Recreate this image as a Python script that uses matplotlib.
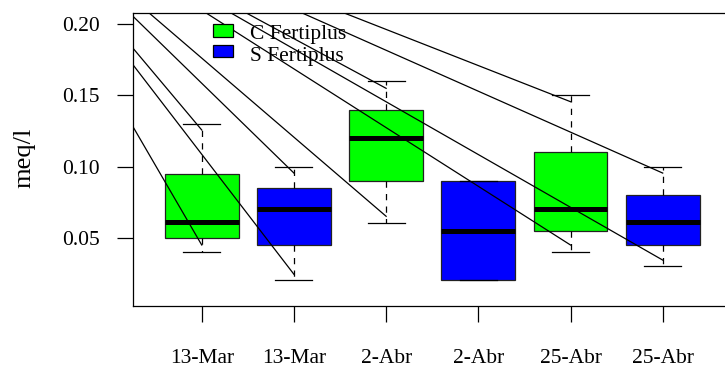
import matplotlib
matplotlib.use('Agg')
import matplotlib.pyplot as plt
from matplotlib.patches import Rectangle

plt.rcParams['font.family'] = ['Liberation Serif', 'DejaVu Serif']

# ---- data ----
labels = ['13-Mar', '13-Mar', '2-Abr', '2-Abr', '25-Abr', '25-Abr']
series = ['C Fertiplus', 'S Fertiplus', 'C Fertiplus', 'S Fertiplus', 'C Fertiplus', 'S Fertiplus']
legend_labels = ['C Fertiplus', 'S Fertiplus']
series_colors = {'C Fertiplus': '#00FF00', 'S Fertiplus': '#0000FF'}
whisker_lo = [0.040, 0.020, 0.060, 0.020, 0.040, 0.030]
q1 = [0.050, 0.045, 0.090, 0.020, 0.055, 0.045]
median = [0.061, 0.070, 0.120, 0.055, 0.070, 0.061]
q3 = [0.095, 0.085, 0.140, 0.090, 0.110, 0.080]
whisker_hi = [0.130, 0.100, 0.160, 0.090, 0.150, 0.100]
# stray pointer lines (common origin -> near each whisker end)
pointer_origin = (-1.35, 0.307)
pointer_hi = [0.1257, 0.0954, 0.155, None, 0.1456, 0.0954]
pointer_lo = [0.0448, 0.0242, 0.065, None, 0.0448, 0.0342]

W, H = 725, 368
fig = plt.figure(figsize=(W / 100, H / 100), dpi=100)

ax_left_px, ax_right_px = 132.5, 754.9
ax_top_px, ax_bot_px = 12.7, 306.0
ax = fig.add_axes([ax_left_px / W, (H - ax_bot_px) / H,
                   (ax_right_px - ax_left_px) / W, (ax_bot_px - ax_top_px) / H])

positions = list(range(1, len(labels) + 1))
stats = []
for i in range(len(labels)):
    stats.append(dict(med=median[i], q1=q1[i], q3=q3[i],
                      whislo=whisker_lo[i], whishi=whisker_hi[i], fliers=[]))

bp = ax.bxp(stats, positions=positions, widths=0.8, capwidths=0.4,
            patch_artist=True, showfliers=False,
            boxprops=dict(edgecolor='#222222', linewidth=0.9),
            whiskerprops=dict(color='black', linewidth=0.9, linestyle=(0, (5, 5))),
            capprops=dict(color='black', linewidth=0.9),
            medianprops=dict(color='black', linewidth=3.6, solid_capstyle='butt'))
for patch, s in zip(bp['boxes'], series):
    patch.set_facecolor(series_colors[s])

ox, oy = pointer_origin
for i, x in enumerate(positions):
    for yv in (pointer_hi[i], pointer_lo[i]):
        if yv is not None:
            ax.plot([ox, x], [oy, yv], color='black', linewidth=0.9, zorder=4)

ax.set_xlim(0.249, 7.0)
ax.set_ylim(0.0019, 0.2082)

ax.set_xticks(positions)
ax.set_xticklabels(labels, fontsize=15.5)
ax.set_yticks([0.05, 0.10, 0.15, 0.20])
ax.set_yticklabels(['0.05', '0.10', '0.15', '0.20'], fontsize=15.5)
ax.tick_params(axis='x', length=11.3, width=0.9, pad=20, direction='out')
ax.tick_params(axis='y', length=11.4, width=0.9, pad=12, direction='out')
for sp in ax.spines.values():
    sp.set_linewidth(0.9)

fig.text(24 / W, (H - 158) / H, 'meq/l', rotation=90, ha='center', va='center', fontsize=19)

# legend (no frame)
leg_rows = [(24.5, 39.5), (45.0, 61.0)]
for (top_px, base_px), lab in zip(leg_rows, legend_labels):
    fig.patches.append(Rectangle((213.3 / W, (H - top_px - 12) / H), 19.4 / W, 12 / H,
                                 transform=fig.transFigure, facecolor=series_colors[lab],
                                 edgecolor='black', linewidth=0.9, zorder=1))
    fig.text(250 / W, (H - base_px) / H, lab, ha='left', va='baseline', fontsize=15.5, zorder=1)

fig.savefig('out.png', dpi=100)
